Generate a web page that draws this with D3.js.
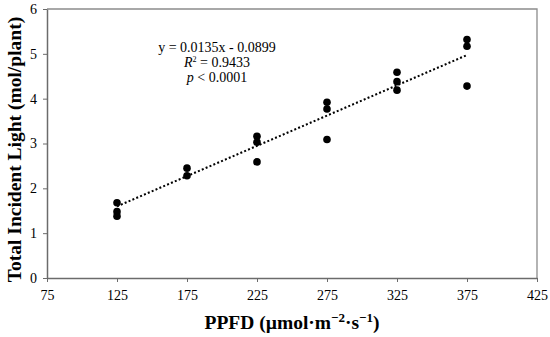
<!DOCTYPE html>
<html>
<head>
<meta charset="utf-8">
<script src="https://cdn.jsdelivr.net/npm/d3@7"></script>
<style>
  body { margin: 0; background: #fff; }
  svg { display: block; font-family: "Liberation Serif", "Times New Roman", serif; }
  .axis path, .axis line { stroke: #6b6b6b; }
  .axis text { font-size: 14px; fill: #000; font-family: "Liberation Serif", serif; }
  .title { font-weight: bold; font-size: 19.5px; }
  .note { font-size: 14px; }
</style>
</head>
<body>
<svg></svg>
<script>
var ppfd = [125, 125, 125, 175, 175, 225, 225, 225, 275, 275, 275, 325, 325, 325, 375, 375, 375];
var light = [1.68, 1.48, 1.38, 2.45, 2.28, 3.16, 3.03, 2.59, 3.92, 3.77, 3.09, 4.59, 4.38, 4.19, 5.32, 5.17, 4.28];
var xTicks = [75, 125, 175, 225, 275, 325, 375, 425];
var yTicks = [0, 1, 2, 3, 4, 5, 6];
var slope = 0.0135;
var intercept = -0.0899;
var fitRange = [125, 375];

var margin = {
  top: 9,
  right: 13,
  bottom: 59,
  left: 47
};
var width = 550 - margin.left - margin.right;
var height = 337 - margin.top - margin.bottom;

var svg = d3.select('svg')
  .attr('width', 550)
  .attr('height', 337);
var g = svg.append('g')
  .attr('transform', 'translate(' + margin.left + ',' + margin.top + ')');

var scaleX = d3.scaleLinear()
  .domain([75, 425])
  .range([0, width]);
var scaleY = d3.scaleLinear()
  .domain([0, 6])
  .range([height, 0]);

// frame on top and right
g.append('path')
  .attr('d', 'M0,0H' + width + 'V' + height)
  .attr('fill', 'none')
  .attr('stroke', '#8c8c8c')
  .attr('stroke-width', 1.3);

g.append('g')
  .attr('class', 'axis x-axis')
  .attr('transform', 'translate(0,' + height + ')')
  .call(d3.axisBottom(scaleX).tickValues(xTicks).tickSize(4).tickSizeOuter(0).tickPadding(8))
  .call(function(a) { a.select('.domain').attr('stroke-width', 1.5); });

g.append('g')
  .attr('class', 'axis y-axis')
  .call(d3.axisLeft(scaleY).tickValues(yTicks).tickFormat(d3.format('d')).tickSize(4).tickSizeOuter(0).tickPadding(6))
  .call(function(a) { a.select('.domain').attr('stroke-width', 1.5); });

// regression line
var line = d3.line()
  .x(function(d) { return scaleX(d); })
  .y(function(d) { return scaleY(slope * d + intercept); });

g.append('path')
  .datum(fitRange)
  .attr('d', line)
  .attr('fill', 'none')
  .attr('stroke', '#000')
  .attr('stroke-width', 2)
  .attr('stroke-dasharray', '2,2.2');

g.selectAll('circle')
  .data(ppfd)
  .enter().append('circle')
  .attr('cx', function(d) { return scaleX(d); })
  .attr('cy', function(d, i) { return scaleY(light[i]); })
  .attr('r', 3.8)
  .attr('fill', '#000');

// equation block
var note = svg.append('text')
  .attr('class', 'note')
  .attr('text-anchor', 'middle');
note.append('tspan')
  .attr('x', 217).attr('y', 52)
  .text('y = 0.0135x - 0.0899');
var r2 = note.append('tspan')
  .attr('x', 217).attr('y', 67);
r2.append('tspan').attr('font-style', 'italic').text('R');
r2.append('tspan').attr('font-size', '8px').attr('dy', -5).text('2');
r2.append('tspan').attr('dy', 5).text(' = 0.9433');
var pv = note.append('tspan')
  .attr('x', 217).attr('y', 82);
pv.append('tspan').attr('font-style', 'italic').text('p');
pv.append('tspan').text(' < 0.0001');

// axis titles
var xTitle = svg.append('text')
  .attr('class', 'title')
  .attr('x', margin.left + width / 2)
  .attr('y', 329)
  .attr('text-anchor', 'middle');
xTitle.append('tspan').text('PPFD (µmol·m');
xTitle.append('tspan').attr('font-size', '13px').attr('dy', -7).text('−2');
xTitle.append('tspan').attr('dy', 7).text('·s');
xTitle.append('tspan').attr('font-size', '13px').attr('dy', -7).text('−1');
xTitle.append('tspan').attr('dy', 7).text(')');

svg.append('text')
  .attr('class', 'title')
  .attr('transform', 'translate(21,' + (margin.top + height / 2 + 6) + ') rotate(-90)')
  .attr('text-anchor', 'middle')
  .text('Total Incident Light (mol/plant)');
</script>
</body>
</html>
